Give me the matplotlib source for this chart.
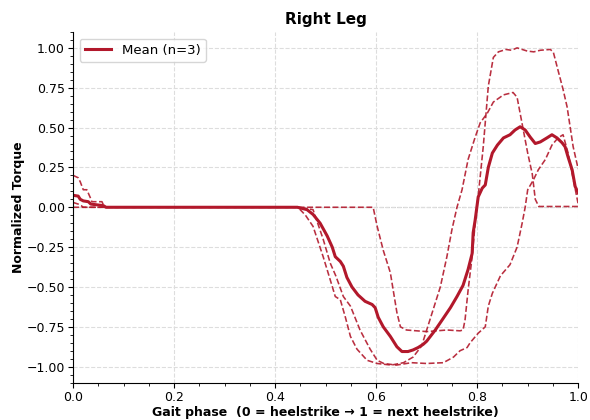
import numpy as np
import matplotlib
matplotlib.use("Agg")
import matplotlib.pyplot as plt
from matplotlib.ticker import MultipleLocator

# individual trials
t1_x = [0, 0.01, 0.014, 0.02, 0.027, 0.034, 0.037, 0.057, 0.062, 0.594, 0.602, 0.614,
        0.628, 0.641, 0.648, 0.66, 0.70, 0.74, 0.766, 0.772, 0.776, 0.782, 0.79, 0.796,
        0.802, 0.812, 0.822, 0.832, 0.842, 0.857, 0.868, 0.879, 0.899, 0.912, 0.925,
        0.945, 0.951, 0.96, 0.97, 0.978, 0.99, 1.0]
t1_y = [0.2, 0.185, 0.16, 0.11, 0.11, 0.06, 0.035, 0.035, 0.0, 0.0, -0.12, -0.27,
        -0.41, -0.66, -0.75, -0.77, -0.78, -0.77, -0.775, -0.77, -0.705, -0.52, -0.31, -0.1,
        0.07, 0.38, 0.76, 0.94, 0.975, 0.99, 0.985, 1.0, 0.98, 0.975, 0.985,
        0.99, 0.97, 0.86, 0.74, 0.63, 0.38, 0.24]

t2_x = [0, 0.01, 0.016, 0.02, 0.445, 0.46, 0.475, 0.495, 0.509, 0.519, 0.529, 0.539,
        0.549, 0.562, 0.582, 0.602, 0.63, 0.654, 0.673, 0.69, 0.70, 0.713, 0.727, 0.74,
        0.75, 0.76, 0.77, 0.782, 0.796, 0.806, 0.82, 0.832, 0.852, 0.871, 0.879, 0.885,
        0.891, 0.90, 0.909, 0.915, 0.922, 1.0]
t2_y = [0.03, 0.02, 0.01, 0.0, 0.0, -0.05, -0.12, -0.31, -0.455, -0.56, -0.58, -0.69,
        -0.81, -0.89, -0.96, -0.98, -0.99, -0.975, -0.94, -0.87, -0.77, -0.64, -0.5, -0.31,
        -0.14, 0.0, 0.11, 0.3, 0.44, 0.53, 0.59, 0.66, 0.705, 0.72, 0.69, 0.59,
        0.49, 0.34, 0.21, 0.05, 0.005, 0.005]

t3_x = [0, 0.446, 0.475, 0.495, 0.509, 0.52, 0.535, 0.549, 0.568, 0.588, 0.602, 0.615,
        0.64, 0.67, 0.70, 0.733, 0.753, 0.766, 0.78, 0.786, 0.802, 0.816, 0.822, 0.83,
        0.846, 0.865, 0.879, 0.889, 0.895, 0.9, 0.911, 0.921, 0.935, 0.948, 0.96, 0.97,
        0.98, 0.99, 1.0]
t3_y = [0, 0, -0.015, -0.2, -0.35, -0.43, -0.56, -0.62, -0.77, -0.89, -0.96, -0.98,
        -0.99, -0.975, -0.98, -0.975, -0.94, -0.9, -0.88, -0.85, -0.79, -0.75, -0.62, -0.54,
        -0.43, -0.36, -0.25, -0.1, 0.0, 0.11, 0.17, 0.235, 0.3, 0.39, 0.435, 0.455,
        0.34, 0.18, 0.02]

# mean curve
mean_x = [0, 0.01, 0.014, 0.02, 0.03, 0.035, 0.06, 0.065, 0.444, 0.463, 0.475, 0.489,
          0.503, 0.513, 0.519, 0.529, 0.535, 0.542, 0.552, 0.564, 0.578, 0.592, 0.598,
          0.604, 0.614, 0.628, 0.641, 0.651, 0.663, 0.673, 0.683, 0.693, 0.70, 0.717,
          0.731, 0.747, 0.76, 0.772, 0.782, 0.79, 0.792, 0.796, 0.802, 0.81, 0.816,
          0.822, 0.83, 0.84, 0.852, 0.865, 0.875, 0.885, 0.895, 0.905, 0.915, 0.925,
          0.938, 0.948, 0.958, 0.968, 0.974, 0.98, 0.988, 0.994, 1.0]
mean_y = [0.075, 0.07, 0.05, 0.04, 0.035, 0.02, 0.01, 0.0, 0.0, -0.015, -0.045, -0.1,
          -0.18, -0.25, -0.31, -0.34, -0.37, -0.44, -0.5, -0.55, -0.59, -0.61, -0.63,
          -0.69, -0.75, -0.81, -0.875, -0.905, -0.905, -0.895, -0.88, -0.86, -0.84, -0.77,
          -0.705, -0.63, -0.56, -0.49, -0.39, -0.29, -0.16, -0.08, 0.065, 0.12, 0.14,
          0.25, 0.34, 0.39, 0.435, 0.455, 0.485, 0.505, 0.485, 0.44, 0.40, 0.41,
          0.435, 0.455, 0.435, 0.405, 0.38, 0.315, 0.235, 0.13, 0.09]

col = "#b2182b"

fig, ax = plt.subplots(figsize=(5.9, 4.2), dpi=100)
fig.subplots_adjust(left=0.124, right=0.98, top=0.924, bottom=0.089)

for tx, ty in [(t1_x, t1_y), (t2_x, t2_y), (t3_x, t3_y)]:
    ax.plot(tx, ty, color=col, lw=1.15, ls="--", alpha=0.9)
ax.plot(mean_x, mean_y, color=col, lw=2.2, label="Mean (n=3)")

ax.axhline(0, color="gray", lw=0.8, ls="--", alpha=0.7, zorder=0)

ax.set_xlim(0, 1)
ax.set_ylim(-1.1, 1.1)
ax.xaxis.set_major_locator(MultipleLocator(0.2))
ax.xaxis.set_minor_locator(MultipleLocator(0.05))
ax.yaxis.set_major_locator(MultipleLocator(0.25))
ax.yaxis.set_minor_locator(MultipleLocator(0.05))
ax.grid(True, which="major", ls="--", color="#dddddd", lw=0.8)
ax.spines["top"].set_visible(False)
ax.spines["right"].set_visible(False)

ax.set_title("Right Leg", fontweight="bold", fontsize=11)
ax.set_xlabel("Gait phase  (0 = heelstrike \u2192 1 = next heelstrike)",
              fontweight="bold", fontsize=9, labelpad=1.5)
ax.set_ylabel("Normalized Torque", fontweight="bold", fontsize=9, labelpad=1)
ax.tick_params(labelsize=9, pad=2.5)
ax.legend(loc="upper left", fontsize=9.5)

fig.savefig("out.png", dpi=100)
